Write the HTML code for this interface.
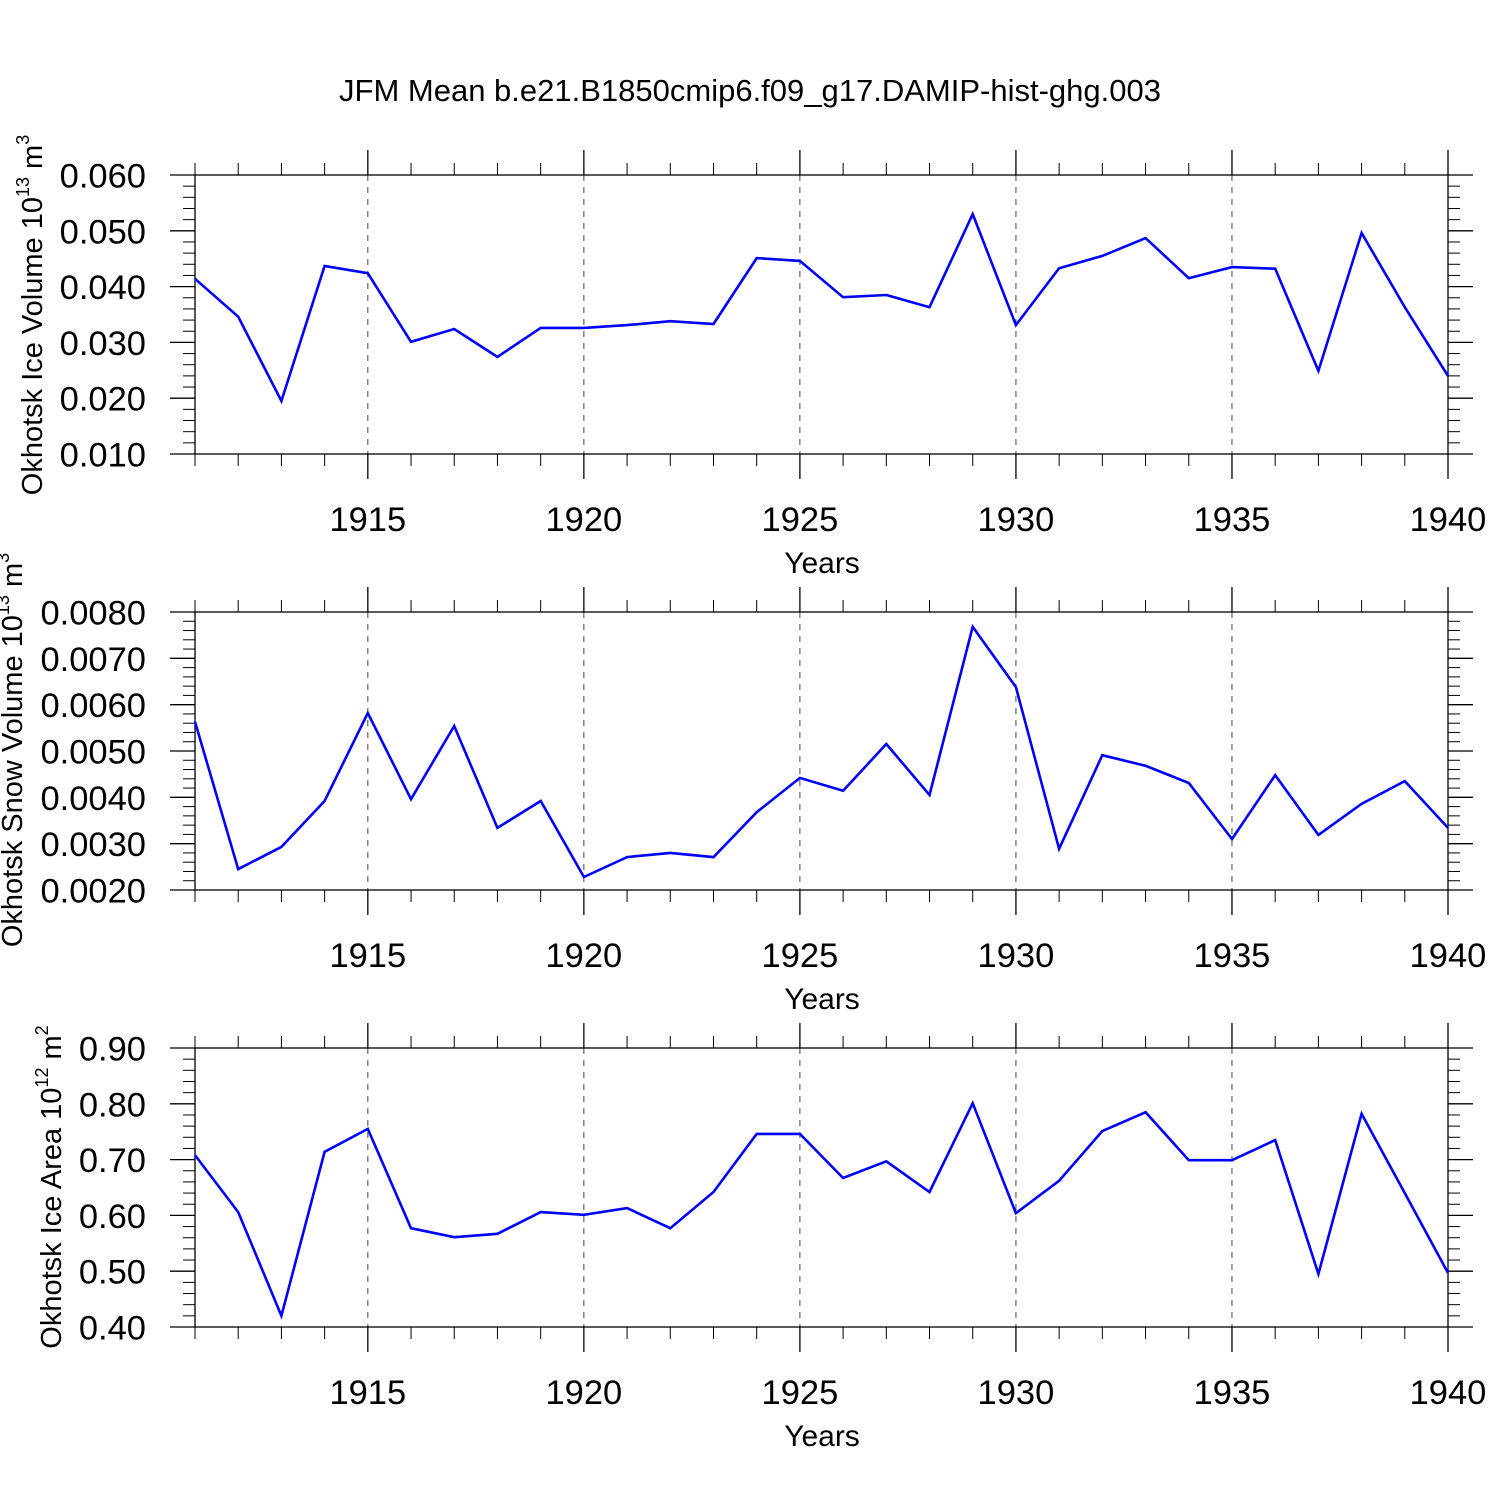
<!DOCTYPE html>
<html><head><meta charset="utf-8"><style>
html,body{margin:0;padding:0;background:#fff;}
svg{display:block;font-family:"Liberation Sans",Arial,sans-serif;}
</style></head><body>
<svg id="chart" width="1500" height="1500" viewBox="0 0 1500 1500" xmlns="http://www.w3.org/2000/svg">
<rect width="1500" height="1500" fill="#fff"/>
<text x="750" y="101" font-size="31" text-anchor="middle">JFM Mean b.e21.B1850cmip6.f09_g17.DAMIP-hist-ghg.003</text>
</svg>
<script>
const years = [1911,1912,1913,1914,1915,1916,1917,1918,1919,1920,1921,1922,1923,1924,1925,1926,1927,1928,1929,1930,1931,1932,1933,1934,1935,1936,1937,1938,1939,1940];
const iceVolume = [0.0414,0.0346,0.0195,0.0437,0.0424,0.0301,0.0324,0.0274,0.0326,0.0326,0.0331,0.0338,0.0333,0.0451,0.0446,0.0381,0.0385,0.0363,0.0530,0.0331,0.0433,0.0455,0.0487,0.0415,0.0435,0.0432,0.0249,0.0496,0.0363,0.0240];
const snowVolume = [0.00563,0.00245,0.00293,0.00392,0.00582,0.00396,0.00554,0.00334,0.00392,0.00228,0.00271,0.00280,0.00271,0.00368,0.00442,0.00414,0.00515,0.00405,0.00768,0.00638,0.00289,0.00491,0.00468,0.00431,0.00310,0.00448,0.00319,0.00386,0.00435,0.00334];
const iceArea = [0.708,0.606,0.420,0.714,0.755,0.577,0.561,0.567,0.606,0.601,0.613,0.577,0.642,0.746,0.746,0.667,0.697,0.642,0.801,0.604,0.662,0.751,0.785,0.699,0.699,0.735,0.495,0.782,0.640,0.497];
const xTickLabels = [1915,1920,1925,1930,1935,1940];
const iceVolumeTicks = ["0.010","0.020","0.030","0.040","0.050","0.060"];
const snowVolumeTicks = ["0.0020","0.0030","0.0040","0.0050","0.0060","0.0070","0.0080"];
const iceAreaTicks = ["0.40","0.50","0.60","0.70","0.80","0.90"];

const NS = "http://www.w3.org/2000/svg";
const svg = document.getElementById('chart');
const X0 = 195, X1 = 1448, YR0 = 1911, YR1 = 1940;
function xs(yr){ return X0 + (yr - YR0) / (YR1 - YR0) * (X1 - X0); }
function mk(tag, attrs, parent){ const e = document.createElementNS(NS, tag); for (const k in attrs) e.setAttribute(k, attrs[k]); (parent||svg).appendChild(e); return e; }

const panels = [
 {name:'ice-volume', top:175, bot:454, data:iceVolume, ticks:iceVolumeTicks, title:['Okhotsk Ice Volume 10','13',' m','3'], tx:42, ty:315},
 {name:'snow-volume', top:612, bot:890, data:snowVolume, ticks:snowVolumeTicks, title:['Okhotsk Snow Volume 10','13',' m','3'], tx:22, ty:750},
 {name:'ice-area', top:1048, bot:1327, data:iceArea, ticks:iceAreaTicks, title:['Okhotsk Ice Area 10','12',' m','2'], tx:61, ty:1187}
];

panels.forEach(p => {
  const g = mk('g', {});
  
  
  const vmin = parseFloat(p.ticks[0]), vmax = parseFloat(p.ticks[p.ticks.length-1]);
  const ys = v => p.bot - (v - vmin) / (vmax - vmin) * (p.bot - p.top);
  xTickLabels.forEach(yr => {
    if (yr === YR1) return;
    const l = mk('line', {x1:xs(yr), x2:xs(yr), y1:p.top, y2:p.bot, stroke:'#444', 'stroke-width':1, 'stroke-dasharray':'6,6'}, g);
    
    
  });
  const fr = mk('rect', {x:X0, y:p.top, width:X1-X0, height:p.bot-p.top, fill:'none', stroke:'#000', 'stroke-width':1.3}, g);
  
  
  years.forEach(yr => {
    const major = yr % 5 === 0;
    const len = major ? 25 : 12;
    const x = xs(yr);
    mk('line', {x1:x, x2:x, y1:p.top - len, y2:p.top, stroke:'#000', 'stroke-width':major?1.3:1}, g);
    mk('line', {x1:x, x2:x, y1:p.bot, y2:p.bot + len, stroke:'#000', 'stroke-width':major?1.3:1}, g);
  });
  xTickLabels.forEach(yr => {
    const t = mk('text', {x:xs(yr), y:p.bot + 77, 'font-size':34.5, 'text-anchor':'middle'}, g);
    
    
    t.textContent = yr;
  });
  const n = p.ticks.length - 1;
  for (let i = 0; i <= n * 5; i++) {
    const v = vmin + (vmax - vmin) * i / (n * 5);
    const y = ys(v);
    const major = i % 5 === 0;
    const len = major ? 25 : 12;
    mk('line', {x1:X0 - len, x2:X0, y1:y, y2:y, stroke:'#000', 'stroke-width':major?1.3:1}, g);
    mk('line', {x1:X1, x2:X1 + len, y1:y, y2:y, stroke:'#000', 'stroke-width':major?1.3:1}, g);
  }
  p.ticks.forEach(tl => {
    const t = mk('text', {x:146, y:ys(parseFloat(tl)) + 12.5, 'font-size':34.5, 'text-anchor':'end'}, g);
    
    
    t.textContent = tl;
  });
  const xt = mk('text', {x:822, y:p.bot + 119, 'font-size':30, 'text-anchor':'middle'}, g);
  
  
  xt.textContent = 'Years';
  const yt = mk('text', {x:0, y:0, 'font-size':29, 'text-anchor':'middle', transform:`translate(${p.tx},${p.ty}) rotate(-90)`}, g);
  
  
  const s1 = mk('tspan', {}, yt); s1.textContent = p.title[0];
  const s2 = mk('tspan', {dy:-13, 'font-size':18}, yt); s2.textContent = p.title[1];
  const s3 = mk('tspan', {dy:13}, yt); s3.textContent = p.title[2];
  const s4 = mk('tspan', {dy:-13, 'font-size':18}, yt); s4.textContent = p.title[3];
  const pts = p.data.map((v, i) => xs(years[i]).toFixed(1) + ',' + ys(v).toFixed(1)).join(' ');
  const pl = mk('polyline', {points:pts, fill:'none', stroke:'#0000ff', 'stroke-width':2.6, 'stroke-linejoin':'miter'}, g);
  
  
});
</script>
</body></html>
